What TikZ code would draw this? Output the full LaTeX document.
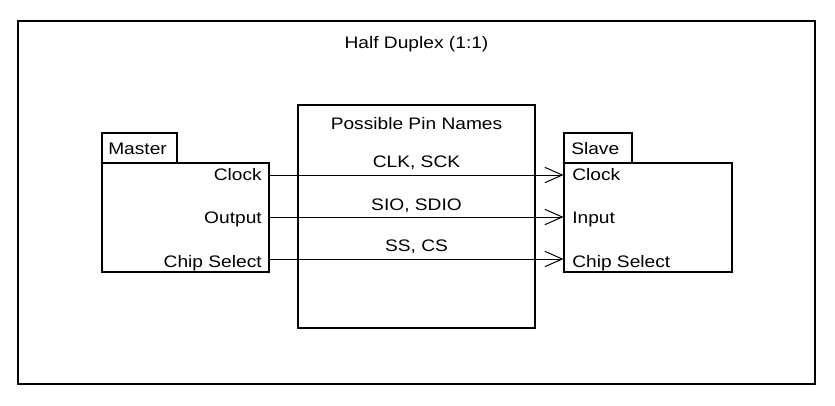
\documentclass[tikz,border=0pt]{standalone}
\usepackage{fontspec}
\setmainfont{Liberation Sans}[FakeStretch=1.15]
\usetikzlibrary{arrows.meta}
\begin{document}
\begin{tikzpicture}[x=0.75pt,y=-0.75pt,
  box/.style={draw, line width=0.8pt, inner sep=0pt, minimum width=#1},
  lbl/.style={inner sep=0pt, font=\fontsize{12.5}{14}\selectfont},
  arr/.style={line width=0.75pt, -{Straight Barb[length=13pt,width=11.5pt,line width=0.75pt]}}]
\useasboundingbox (0,0) rectangle (835,405);
% outer frame
\node[box=797*0.75pt, minimum height=363*0.75pt] (frame) at (416.5,202.5) {};
\node[lbl] (title) at (416.5,44) {Half Duplex (1:1)};
% middle box
\node[box=237*0.75pt, minimum height=223*0.75pt] (mid) at (416.5,216.5) {};
\node[lbl] (midt) at (416.5,124) {Possible Pin Names};
\node[lbl] (n1) at (416.5,163) {CLK, SCK};
\node[lbl] (n2) at (416.5,206) {SIO, SDIO};
\node[lbl] (n3) at (416.5,247) {SS, CS};
% master
\node[box=167*0.75pt, minimum height=109*0.75pt] (m) at (185.5,217.5) {};
\node[box=75*0.75pt, minimum height=30*0.75pt] (mtab) at (139.5,148) {};
\node[lbl, anchor=west] (mname) at (108,149) {Master};
\node[lbl, anchor=east] (mc) at (262,175) {Clock};
\node[lbl, anchor=east] (mo) at (262,219) {Output};
\node[lbl, anchor=east] (ms) at (262,263) {Chip Select};
% slave
\node[box=168*0.75pt, minimum height=109*0.75pt] (s) at (648,217.5) {};
\node[box=68*0.75pt, minimum height=30*0.75pt] (stab) at (598,148) {};
\node[lbl, anchor=west] (sname) at (571,149) {Slave};
\node[lbl, anchor=west] (sc) at (572,175) {Clock};
\node[lbl, anchor=west] (si) at (572,219) {Input};
\node[lbl, anchor=west] (ss) at (572,263) {Chip Select};
% connectors
\draw[arr] (m.east |- 0,175) -- (s.west |- 0,175);
\draw[arr] (m.east |- 0,217) -- (s.west |- 0,217);
\draw[arr] (m.east |- 0,259) -- (s.west |- 0,259);
\end{tikzpicture}
\end{document}
